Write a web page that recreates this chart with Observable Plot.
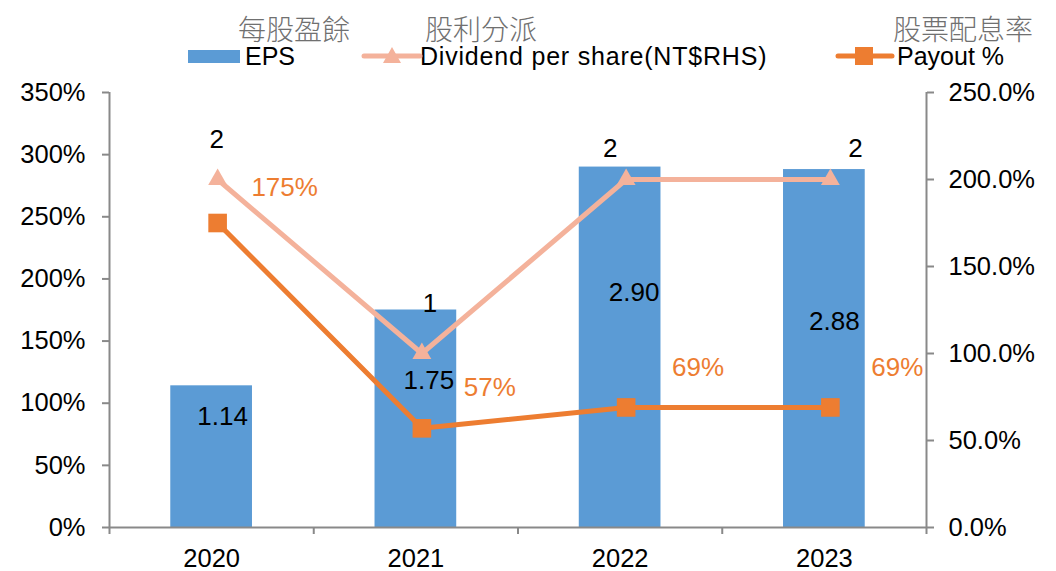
<!DOCTYPE html>
<html>
<head>
<meta charset="utf-8">
<script src="https://cdn.jsdelivr.net/npm/d3@7"></script>
<script src="https://cdn.jsdelivr.net/npm/@observablehq/plot@0.6"></script>
<style>
  body { margin: 0; background: #fff; font-family: "Liberation Sans", Arial, sans-serif; }
  #wrap { position: relative; width: 1056px; }
  #head { position: relative; height: 75px; }
  .zh { position: absolute; top: 15px; font-family: "Noto Sans CJK TC", "Noto Sans CJK SC", sans-serif; font-size: 28px; line-height: 26px; color: #707070; font-weight: 300; white-space: nowrap; }
  .lg { position: absolute; top: 46px; font-size: 25px; line-height: 20px; color: #000; white-space: nowrap; }
  .sw { position: absolute; top: 44px; }
</style>
</head>
<body>
<div id="wrap">
  <div id="head"></div>
  <div id="chart"></div>
</div>
<script>
// ---- data ----
const years = ["2020", "2021", "2022", "2023"];
const eps = [1.14, 1.75, 2.90, 2.88];            // bars, left axis (x100 %)
const dividend = [2, 1, 2, 2];                    // NT$, right axis (x100 %)
const payout = [175, 57, 69, 69];                 // %, right axis
const leftTicks = [0, 50, 100, 150, 200, 250, 300, 350];
const rightTicks = [0, 50, 100, 150, 200, 250];
const seriesNames = ["EPS", "Dividend per share(NT$RHS)", "Payout %"];
const seriesTitles = ["每股盈餘", "股利分派", "股票配息率"];

// ---- style / layout ----
const C_BAR = "#5B9BD5", C_DIV = "#F4B29B", C_PAY = "#ED7D31", C_AX = "#898989";
const TICK_FS = 25.5, LABEL_FS = 26;
const K = leftTicks[leftTicks.length - 1] / rightTicks[rightTicks.length - 1];
// label nudges (pixels) relative to their data point
const epsNudge = [[11, 31], [13, 71], [14, 126], [10, 152]];
const divNudge = [[5, -40], [14, -50], [-10, -31], [31, -31]];
const payNudge = [[73, -35], [74, -41], [78, -40], [73, -40]];

const rows = years.map((year, i) => ({i, year, eps: eps[i], div: dividend[i], pay: payout[i]}));

// ---- header: titles + legend ----
const head = document.getElementById("head");
const titleX = [238, 425, 893];
seriesTitles.forEach((t, i) => {
  const s = document.createElement("div");
  s.className = "zh"; s.style.left = titleX[i] + "px"; s.textContent = t;
  head.appendChild(s);
});
const legendText = [245, 420, 897];
const legendSpacing = ["0px", "0.8px", "0px"];
seriesNames.forEach((t, i) => {
  const s = document.createElement("div");
  s.className = "lg"; s.style.left = legendText[i] + "px"; s.style.letterSpacing = legendSpacing[i]; s.textContent = t;
  head.appendChild(s);
});
head.insertAdjacentHTML("beforeend",
  `<svg class="sw" style="left:188px" width="52" height="24"><rect x="0" y="6" width="52" height="13" fill="${C_BAR}"/></svg>
   <svg class="sw" style="left:361px" width="62" height="24"><line x1="3" x2="59" y1="12" y2="12" stroke="${C_DIV}" stroke-width="5" stroke-linecap="round"/><path d="M31,3 L40,19 L22,19 Z" fill="${C_DIV}"/></svg>
   <svg class="sw" style="left:835px" width="60" height="24"><line x1="3" x2="57" y1="12" y2="12" stroke="${C_PAY}" stroke-width="5" stroke-linecap="round"/><rect x="20" y="3" width="18" height="18" fill="${C_PAY}"/></svg>`);

// ---- chart ----
const half = 0.2;
const lineDx = 6;
const marks = [
  Plot.rect(rows, {x1: d => d.i - half, x2: d => d.i + half, y1: 0, y2: d => d.eps * 100, fill: C_BAR}),
  Plot.ruleX([-0.5, years.length - 0.5], {stroke: C_AX, strokeWidth: 2}),
  Plot.ruleY([0], {stroke: C_AX, strokeWidth: 2}),
  Plot.axisY(leftTicks, {anchor: "left", tickSize: 7, tickPadding: 17, tickFormat: d => d + "%",
    stroke: C_AX, strokeWidth: 2, fontSize: TICK_FS, label: null}),
  Plot.axisY(rightTicks, {anchor: "right", y: d => d * K, tickSize: 7, tickPadding: 15,
    tickFormat: d => d.toFixed(1) + "%", stroke: C_AX, strokeWidth: 2, fontSize: TICK_FS, label: null}),
  Plot.axisX(d3.range(-0.5, years.length, 1), {anchor: "bottom", tickSize: 7, tickFormat: () => "",
    stroke: C_AX, strokeWidth: 2, label: null}),
  Plot.axisX(d3.range(years.length), {anchor: "bottom", tickSize: 0, tickPadding: 21,
    tickFormat: i => years[i], fontSize: TICK_FS, label: null}),
  Plot.line(rows, {x: "i", y: d => d.div * 100 * K, stroke: C_DIV, strokeWidth: 5, dx: lineDx}),
  Plot.dot(rows, {x: "i", y: d => d.div * 100 * K, symbol: "triangle", r: 7, fill: C_DIV, dx: lineDx}),
  Plot.line(rows, {x: "i", y: d => d.pay * K, stroke: C_PAY, strokeWidth: 5, dx: lineDx}),
  Plot.dot(rows, {x: "i", y: d => d.pay * K, symbol: "square", r: 10.5, fill: C_PAY, dx: lineDx}),
  ...rows.map((r, i) => Plot.text([r], {x: "i", y: d => d.eps * 100, text: d => d.eps.toFixed(2),
    dx: epsNudge[i][0], dy: epsNudge[i][1], fill: "#000", fontSize: LABEL_FS})),
  ...rows.map((r, i) => Plot.text([r], {x: "i", y: d => d.div * 100 * K, text: d => String(d.div),
    dx: divNudge[i][0], dy: divNudge[i][1], fill: "#000", fontSize: LABEL_FS})),
  ...rows.map((r, i) => Plot.text([r], {x: "i", y: d => d.pay * K, text: d => d.pay + "%",
    dx: payNudge[i][0], dy: payNudge[i][1], fill: C_PAY, fontSize: LABEL_FS}))
];

const chart = Plot.plot({
  width: 1056, height: 496,
  marginTop: 17, marginBottom: 44, marginLeft: 109, marginRight: 130,
  style: {fontFamily: "'Liberation Sans', Arial, sans-serif", fontSize: "25px", color: "#000", background: "#fff", overflow: "visible"},
  x: {type: "linear", domain: [-0.5, years.length - 0.5]},
  y: {type: "linear", domain: [0, leftTicks[leftTicks.length - 1]]},
  marks
});
document.getElementById("chart").appendChild(chart);
</script>
</body>
</html>
